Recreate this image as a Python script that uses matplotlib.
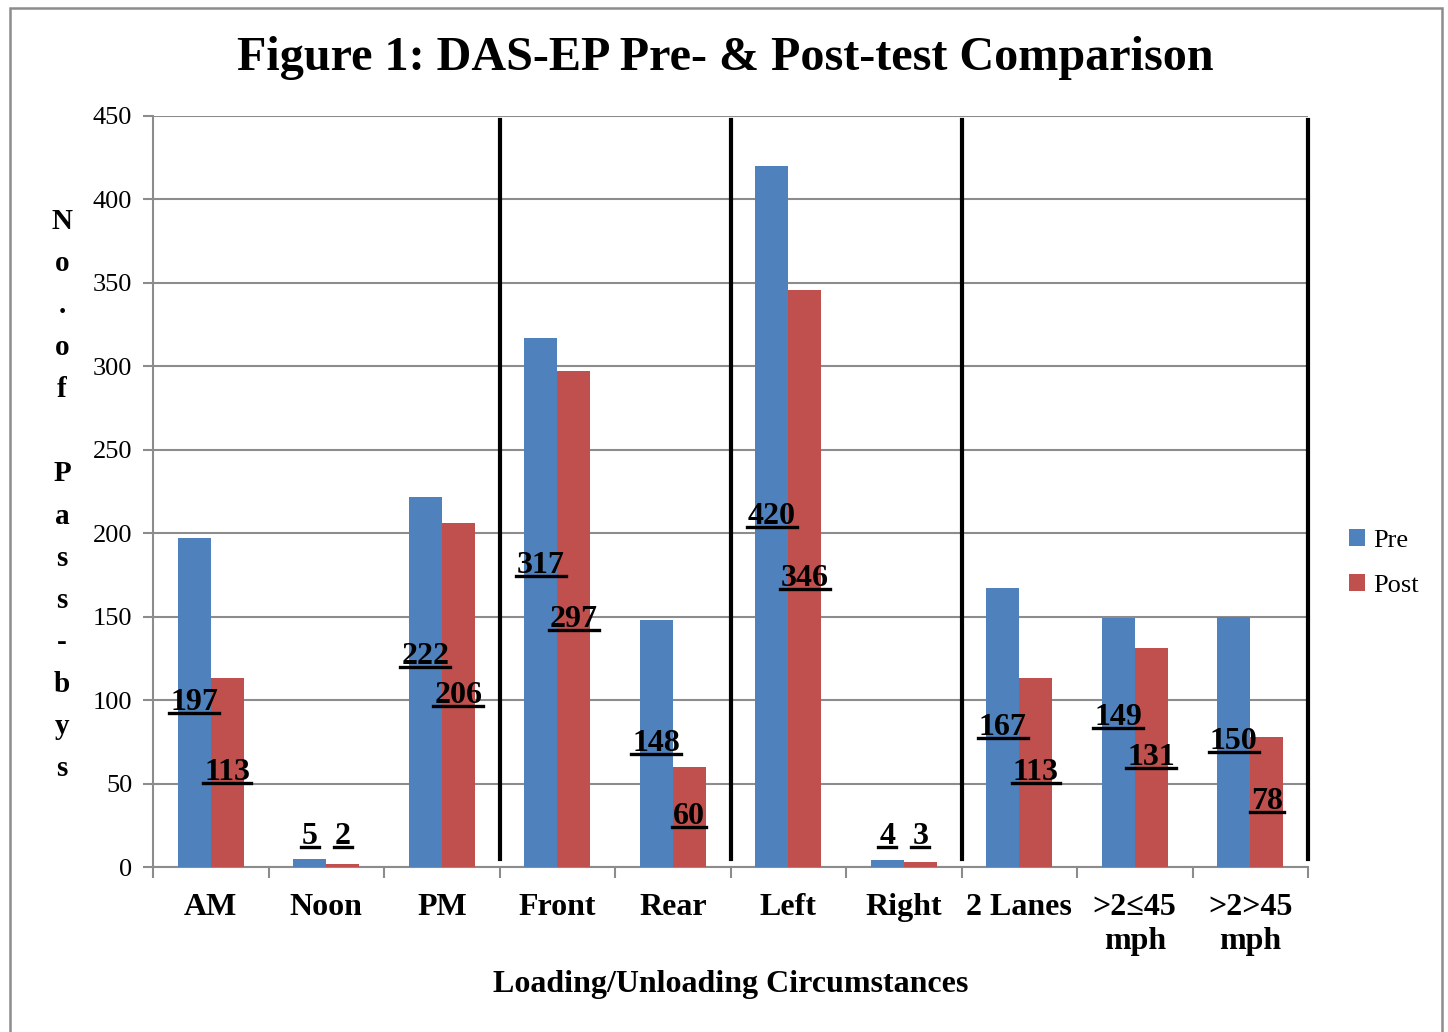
import numpy as np
import matplotlib.pyplot as plt
from matplotlib.patches import Rectangle
from matplotlib.lines import Line2D

plt.rcParams['font.family'] = ['Liberation Serif', 'DejaVu Serif']

categories = ["AM", "Noon", "PM", "Front", "Rear", "Left", "Right",
              "2 Lanes", ">2\u226445\nmph", ">2>45\nmph"]
pre = [197, 5, 222, 317, 148, 420, 4, 167, 149, 150]
post = [113, 2, 206, 297, 60, 346, 3, 113, 131, 78]
# group separators drawn by hand in the original
separators = [2.5, 4.5, 6.5, 9.5]
# labels that were nudged up to avoid overlap (value units)
label_nudge = {2: 15, 3: 22, 8: 15}

blue = '#4F81BD'
red = '#C0504D'

fig = plt.figure(figsize=(14.48, 10.32), dpi=100)
ax = fig.add_axes([153 / 1448, 1 - 867 / 1032, 1155 / 1448, 751 / 1032])

x = np.arange(len(categories))
w = 0.286
ax.bar(x - w / 2, pre, w, color=blue, label='Pre', zorder=3)
ax.bar(x + w / 2, post, w, color=red, label='Post', zorder=3)

ax.set_xlim(-0.5, 9.5)
ax.set_ylim(0, 450)
ax.set_yticks(range(0, 451, 50))
ax.yaxis.grid(True, color='#8c8c8c', lw=1.5, zorder=0)
ax.set_axisbelow(True)

for s in ['top', 'right']:
    ax.spines[s].set_visible(False)
for s in ['left', 'bottom']:
    ax.spines[s].set_color('#8c8c8c')
    ax.spines[s].set_linewidth(1.5)

ax.set_xticks(x)
ax.set_xticklabels(categories, fontsize=23, fontweight='bold', linespacing=1.2)
ax.tick_params(axis='x', length=0, pad=19)
ax.set_xticks(np.arange(-0.5, 10, 1), minor=True)
ax.tick_params(axis='x', which='minor', length=8, width=1.5, color='#8c8c8c')
ax.tick_params(axis='y', length=7, width=1.5, color='#8c8c8c', labelsize=19, pad=8)

for sx in separators:
    ax.axvline(sx, ymin=0.01, ymax=0.995, color='black', lw=3, zorder=4, clip_on=False)

ax.set_xlabel("Loading/Unloading Circumstances", fontsize=23, fontweight='bold', labelpad=10)

fig.text(62 / 1448, 1 - 495 / 1032, "N\no\n.\no\nf\n\nP\na\ns\ns\n-\nb\ny\ns",
         fontsize=21, fontweight='bold', ha='center', va='center', linespacing=1.72)

fig.text(725 / 1448, 1 - 58 / 1032, "Figure 1: DAS-EP Pre- & Post-test Comparison",
         fontsize=34.7, fontweight='bold', ha='center', va='center')

leg = ax.legend(loc='center left', bbox_to_anchor=(1.015, 0.405), frameon=False,
                fontsize=19, handlelength=0.6, handleheight=0.6, handletextpad=0.3,
                labelspacing=0.85)

labels = []
for i in range(len(categories)):
    for v, off in ((pre[i], -w / 2), (post[i], w / 2)):
        if v < 20:
            y = 18
        else:
            y = v / 2 + (label_nudge.get(i, 0) if off < 0 else 0)
        t = ax.text(i + off, y, str(v), fontsize=23, fontweight='bold',
                    ha='center', va='center', zorder=5)
        labels.append(t)

# frame around the chart
fig.patches.append(Rectangle((10 / 1448, -0.05), 1432 / 1448, 1.05 - 8 / 1032,
                             transform=fig.transFigure, fill=False,
                             edgecolor='#8c8c8c', lw=1.8))

# underline the data labels
fig.canvas.draw()
inv = fig.transFigure.inverted()
for t in labels:
    bb = t.get_window_extent()
    x0, y0 = inv.transform((bb.x0 - 1, bb.y0 + 4))
    x1, _ = inv.transform((bb.x1 + 1, bb.y0 + 4))
    fig.lines.append(Line2D([x0, x1], [y0, y0], transform=fig.transFigure,
                            color='black', lw=2.4, zorder=6))

fig.savefig('out.png', dpi=100)
